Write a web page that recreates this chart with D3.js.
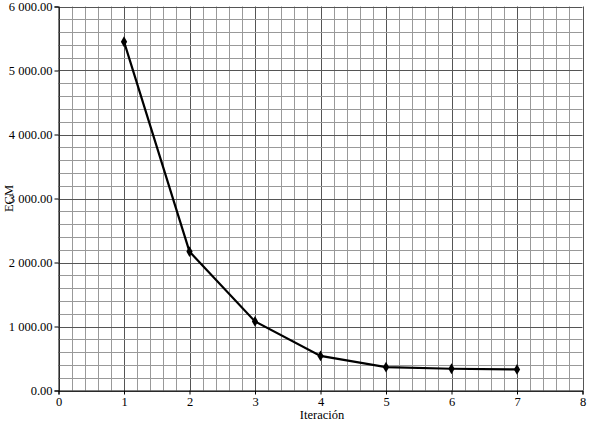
<!DOCTYPE html>
<html><head><meta charset="utf-8">
<script src="https://cdn.jsdelivr.net/npm/d3@7"></script>
<style>body{margin:0;background:#fff}svg{display:block}text{font-family:"Liberation Serif","DejaVu Serif",serif}</style>
</head><body><svg id="c" width="589" height="423" font-family="Liberation Serif, DejaVu Serif, serif"></svg>
<script>
const iterations = [1, 2, 3, 4, 5, 6, 7];
const ecm = [5450, 2170, 1080, 540, 365, 340, 330];
const xTicks = [0, 1, 2, 3, 4, 5, 6, 7, 8];
const yTicks = [0, 1000, 2000, 3000, 4000, 5000, 6000];
const xTitle = "Iteración";
const yTitle = "ECM";

const FONT = '"Liberation Serif", "DejaVu Serif", serif';
const svg = d3.select("#c");
const m = {l: 58.5, r: 582.5, t: 6.5, b: 390.5};
const x = d3.scaleLinear().domain([0, 8]).range([m.l, m.r]);
const y = d3.scaleLinear().domain([0, 6000]).range([m.b, m.t]);

const g = svg.append("g");
const xMinor = d3.range(0, 8.0001, 0.2);
const yMinor = d3.range(0, 6000.1, 200);
g.selectAll("line.vx").data(xMinor).enter().append("line")
  .attr("x1", d => Math.round(x(d)) + 0.5).attr("x2", d => Math.round(x(d)) + 0.5)
  .attr("y1", m.t).attr("y2", m.b)
  .attr("stroke", d => Math.abs(d - Math.round(d)) < 1e-6 ? "#555" : "#999").attr("stroke-width", 1);
g.selectAll("line.hy").data(yMinor).enter().append("line")
  .attr("y1", d => Math.round(y(d)) + 0.5).attr("y2", d => Math.round(y(d)) + 0.5)
  .attr("x1", m.l).attr("x2", m.r)
  .attr("stroke", d => d % 1000 === 0 ? "#555" : "#999").attr("stroke-width", 1);

const xAxis = d3.axisBottom(x).tickValues(xTicks).tickFormat(d3.format("d")).tickSize(4).tickPadding(3);
const fmt = d => d3.format(",.2f")(d).replace(/,/g, " ");
const yAxis = d3.axisLeft(y).tickValues(yTicks).tickFormat(fmt).tickSize(4).tickPadding(2);
const xa = svg.append("g").attr("transform", `translate(0,${m.b})`).call(xAxis);
const ya = svg.append("g").attr("transform", `translate(${m.l},0)`).call(yAxis);
[xa, ya].forEach(a => {
  a.attr("font-family", FONT).attr("font-size", 12.5);
  a.select(".domain").attr("stroke", "#000");
  a.selectAll(".tick line").attr("stroke", "#000");
  a.selectAll("text").attr("fill", "#000").style("font-family", FONT).style("font-size", "12.5px");
});

svg.append("text").attr("x", 322).attr("y", 419).attr("text-anchor", "middle")
  .style("font-family", FONT).style("font-size", "12.5px").text(xTitle);
svg.append("text").attr("transform", `translate(13,${(m.t + m.b) / 2}) rotate(-90)`).attr("text-anchor", "middle")
  .style("font-family", FONT).style("font-size", "12.5px").text(yTitle);

const line = d3.line().x((d, i) => x(iterations[i])).y(d => y(d));
svg.append("path").datum(ecm).attr("d", line).attr("fill", "none").attr("stroke", "#000").attr("stroke-width", 2.2);
const sym = d3.symbol().type(d3.symbolDiamond).size(34);
svg.selectAll("path.pt").data(ecm).enter().append("path")
  .attr("transform", (d, i) => `translate(${x(iterations[i])},${y(d)})`)
  .attr("d", sym).attr("fill", "#000");
</script></body></html>
